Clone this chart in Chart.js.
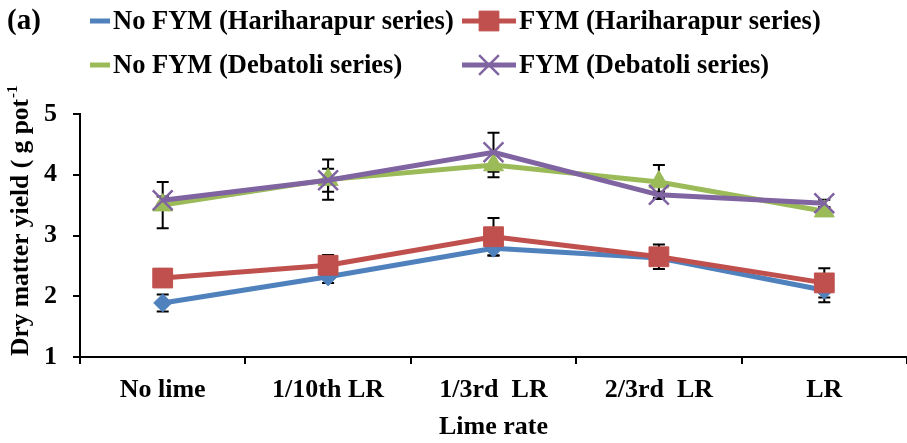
<!DOCTYPE html>
<html>
<head>
<meta charset="utf-8">
<script src="https://cdn.jsdelivr.net/npm/chart.js@4.4.1/dist/chart.umd.min.js"></script>
<style>
  html, body { margin: 0; padding: 0; background: #fff; }
  #wrap { width: 907px; height: 443px; }
</style>
</head>
<body>
<div id="wrap"><canvas id="yieldChart" width="907" height="443"></canvas></div>
<script>
const limeRates = ["No lime", "1/10th LR", "1/3rd  LR", "2/3rd  LR", "LR"];
const yTicks = [1, 2, 3, 4, 5];

const noFymHari = [1.89, 2.32, 2.79, 2.63, 2.10];
const fymHari = [2.30, 2.51, 2.98, 2.65, 2.22];
const noFymDeba = [3.50, 3.92, 4.16, 3.88, 3.40];
const fymDeba = [3.58, 3.91, 4.37, 3.67, 3.53];

const noFymHariErr = [0.14, 0.10, 0.12, 0.10, 0.20];
const fymHariErr = [0.14, 0.17, 0.31, 0.20, 0.24];
const noFymDebaErr = [0.38, 0.33, 0.20, 0.28, 0.06];
const fymDebaErr = [0.06, 0.19, 0.32, 0.05, 0.06];

const FONT = "'Liberation Serif', 'Times New Roman', serif";

// error bars, drawn under the lines like Excel does
const errorBarPlugin = {
  id: "errorBars",
  beforeDatasetsDraw: function (chart) {
    const ctx = chart.ctx;
    const yScale = chart.scales.y;
    ctx.save();
    ctx.strokeStyle = "#000";
    ctx.lineWidth = 2;
    chart.data.datasets.forEach(function (ds, di) {
      const meta = chart.getDatasetMeta(di);
      ds.errors.forEach(function (err, i) {
        const x = meta.data[i].x;
        const yTop = yScale.getPixelForValue(ds.data[i] + err);
        const yBot = yScale.getPixelForValue(ds.data[i] - err);
        ctx.beginPath();
        ctx.moveTo(x, yTop);
        ctx.lineTo(x, yBot);
        ctx.moveTo(x - 6, yTop);
        ctx.lineTo(x + 6, yTop);
        ctx.moveTo(x - 6, yBot);
        ctx.lineTo(x + 6, yBot);
        ctx.stroke();
      });
    });
    ctx.restore();
  }
};

// legend in two fixed columns, the "(a)" tag and the y title
const decorPlugin = {
  id: "decor",
  afterDraw: function (chart) {
    const ctx = chart.ctx;
    const ds = chart.data.datasets;
    ctx.save();
    ctx.fillStyle = "#000";
    ctx.textBaseline = "middle";
    ctx.font = "bold 29px " + FONT;
    ctx.textAlign = "left";
    ctx.fillText("(a)", 7, 22);

    const items = [
      { d: ds[0], x0: 90, x1: 110, y: 21, marker: false },
      { d: ds[1], x0: 462, x1: 516, y: 21, marker: true },
      { d: ds[2], x0: 90, x1: 110, y: 65, marker: false },
      { d: ds[3], x0: 462, x1: 516, y: 65, marker: true }
    ];
    items.forEach(function (it) {
      ctx.strokeStyle = it.d.borderColor;
      ctx.lineWidth = 5;
      ctx.beginPath();
      ctx.moveTo(it.x0, it.y);
      ctx.lineTo(it.x1, it.y);
      ctx.stroke();
      if (it.marker) {
        ctx.fillStyle = it.d.pointBackgroundColor;
        ctx.strokeStyle = it.d.pointBorderColor;
        ctx.lineWidth = it.d.pointBorderWidth;
        Chart.helpers.drawPoint(ctx, {
          pointStyle: it.d.pointStyle,
          radius: it.d.pointRadius,
          borderWidth: it.d.pointBorderWidth,
          rotation: 0
        }, (it.x0 + it.x1) / 2, it.y);
      }
      ctx.fillStyle = "#000";
      ctx.font = "bold 26.5px " + FONT;
      ctx.fillText(it.d.label, it.x1 + 3, it.y + 1);
    });

    // rotated y axis title with superscript
    ctx.translate(21, 356);
    ctx.rotate(-Math.PI / 2);
    ctx.textAlign = "left";
    ctx.font = "bold 25.5px " + FONT;
    const main = "Dry matter yield ( g pot";
    ctx.fillText(main, 0, 0);
    const w = ctx.measureText(main).width;
    ctx.font = "bold 15px " + FONT;
    ctx.fillText("-1", w + 1, -8);
    ctx.restore();
  }
};

function makeSeries(label, data, errors, color, style, radius, borderW, order) {
  return {
    label: label,
    data: data,
    errors: errors,
    borderColor: color,
    backgroundColor: color,
    borderWidth: 5,
    pointStyle: style,
    pointRadius: radius,
    pointHoverRadius: radius,
    pointBackgroundColor: color,
    pointBorderColor: color,
    pointBorderWidth: borderW,
    tension: 0,
    order: order
  };
}

const ctx = document.getElementById("yieldChart").getContext("2d");

new Chart(ctx, {
  type: "line",
  data: {
    labels: limeRates,
    datasets: [
      makeSeries("No FYM (Hariharapur series)", noFymHari, noFymHariErr, "#4F81BD", "rectRot", 9, 1, 3),
      makeSeries("FYM (Hariharapur series)", fymHari, fymHariErr, "#C0504D", "rect", 14, 1, 2),
      makeSeries("No FYM (Debatoli series)", noFymDeba, noFymDebaErr, "#9BBB59", "triangle", 11.5, 1, 1),
      makeSeries("FYM (Debatoli series)", fymDeba, fymDebaErr, "#8064A2", "crossRot", 14, 2.5, 0)
    ]
  },
  options: {
    responsive: false,
    devicePixelRatio: 1,
    animation: false,
    layout: {
      autoPadding: false,
      padding: { top: 114, right: 0, left: 0, bottom: 0 }
    },
    plugins: {
      legend: { display: false },
      tooltip: { enabled: false }
    },
    scales: {
      x: {
        offset: true,
        afterFit: function (scale) {
          scale.height = 86;
          scale.paddingLeft = 0;
          scale.paddingRight = 0;
        },
        grid: {
          offset: true,
          drawOnChartArea: false,
          drawTicks: true,
          tickLength: 7,
          color: "#000",
          lineWidth: 2
        },
        border: { color: "#000", width: 2 },
        ticks: {
          color: "#000",
          padding: 11,
          maxRotation: 0,
          font: { family: FONT, size: 26, weight: "bold" }
        },
        title: {
          display: true,
          text: "Lime rate",
          color: "#000",
          padding: { top: 0, bottom: 0 },
          font: { family: FONT, size: 26, weight: "bold" }
        }
      },
      y: {
        min: 1,
        max: 5,
        afterFit: function (scale) {
          scale.width = 80;
          scale.paddingTop = 0;
          scale.paddingBottom = 0;
        },
        afterBuildTicks: function (scale) {
          scale.ticks = yTicks.map(function (v) { return { value: v }; });
        },
        grid: {
          drawOnChartArea: false,
          drawTicks: true,
          tickLength: 7,
          color: "#000",
          lineWidth: 2
        },
        border: { color: "#000", width: 2 },
        ticks: {
          color: "#000",
          padding: 16,
          font: { family: FONT, size: 26, weight: "bold" }
        }
      }
    }
  },
  plugins: [errorBarPlugin, decorPlugin]
});
</script>
</body>
</html>
